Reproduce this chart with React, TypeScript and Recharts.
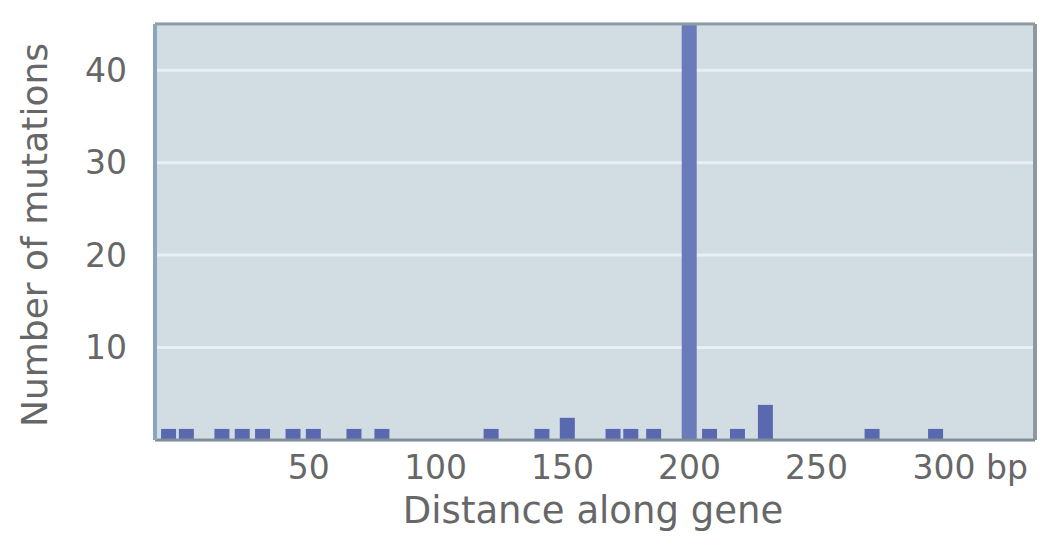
import {
  BarChart,
  Bar,
  Cell,
  XAxis,
  YAxis,
  CartesianGrid,
  ReferenceLine,
  Label,
} from "recharts";

/* ── Data (positions in bp, counts of mutations) ───────── */

const positions = [
  -5, 2, 16, 24, 32, 44, 52, 68, 79, 122, 142, 152, 170, 177, 186, 200, 208,
  219, 230, 272, 297,
];
const mutations = [
  1.2, 1.2, 1.2, 1.2, 1.2, 1.2, 1.2, 1.2, 1.2, 1.2, 1.2, 2.4, 1.2, 1.2, 1.2,
  45, 1.2, 1.2, 3.8, 1.2, 1.2,
];
const xTicks = [50, 100, 150, 200, 250, 300];
const yTicks = [10, 20, 30, 40];

const data = positions.map((pos, i) => ({ pos, count: mutations[i] }));

/* ── Style ─────────────────────────────────────────────── */

const FONT = "'DejaVu Sans', Verdana, sans-serif";
const TEXT = "#676767";
const X_MIN = -10.5;
const X_MAX = 336;
const Y_MAX = 45;

function XTick({ x, y, payload }: any) {
  const v = payload.value;
  if (v === 300) {
    return (
      <text x={x - 31} y={y} dy="0.71em" textAnchor="start" fill={TEXT} fontSize={33} fontFamily={FONT}>
        300 bp
      </text>
    );
  }
  return (
    <text x={x} y={y} dy="0.71em" textAnchor="middle" fill={TEXT} fontSize={33} fontFamily={FONT}>
      {v}
    </text>
  );
}

export default function App() {
  return (
    <div style={{ position: "absolute", left: 0, top: 0, background: "#fff" }}>
      <BarChart
        width={1043}
        height={554}
        data={data}
        margin={{ top: 24, right: 8, bottom: 0, left: 0 }}
      >
        <CartesianGrid
          vertical={false}
          fill="#d1dce3"
          stroke="#e9f0f4"
          strokeWidth={3}
          strokeOpacity={1}
        />
        <XAxis
          type="number"
          dataKey="pos"
          domain={[X_MIN, X_MAX]}
          ticks={xTicks}
          interval={0}
          height={114}
          tickLine={false}
          tickSize={0}
          tickMargin={16}
          axisLine={{ stroke: "#7e8e98", strokeWidth: 3 }}
          tick={<XTick />}
        >
          <Label
            content={() => (
              <text x={593} y={523} textAnchor="middle" fill={TEXT} fontSize={37} fontFamily={FONT}>
                Distance along gene
              </text>
            )}
          />
        </XAxis>
        <YAxis
          type="number"
          domain={[0, Y_MAX]}
          ticks={yTicks}
          allowDataOverflow
          width={155}
          tickLine={false}
          tickSize={0}
          tickMargin={28}
          axisLine={{ stroke: "#8aa5bc", strokeWidth: 4 }}
          tick={{ fill: TEXT, fontSize: 33, fontFamily: FONT }}
        >
          <Label
            content={() => (
              <text
                x={47}
                y={235}
                transform="rotate(-90, 47, 235)"
                textAnchor="middle"
                fill={TEXT}
                fontSize={36}
                fontFamily={FONT}
              >
                Number of mutations
              </text>
            )}
          />
        </YAxis>
        <ReferenceLine y={Y_MAX} stroke="#8c9aa3" strokeWidth={3} />
        <ReferenceLine x={X_MAX} stroke="#8d989f" strokeWidth={4} />
        <Bar dataKey="count" barSize={15} isAnimationActive={false}>
          {data.map((d, i) => (
            <Cell key={i} fill={d.count > 40 ? "#6a7aba" : "#5a68b0"} />
          ))}
        </Bar>
      </BarChart>
    </div>
  );
}
